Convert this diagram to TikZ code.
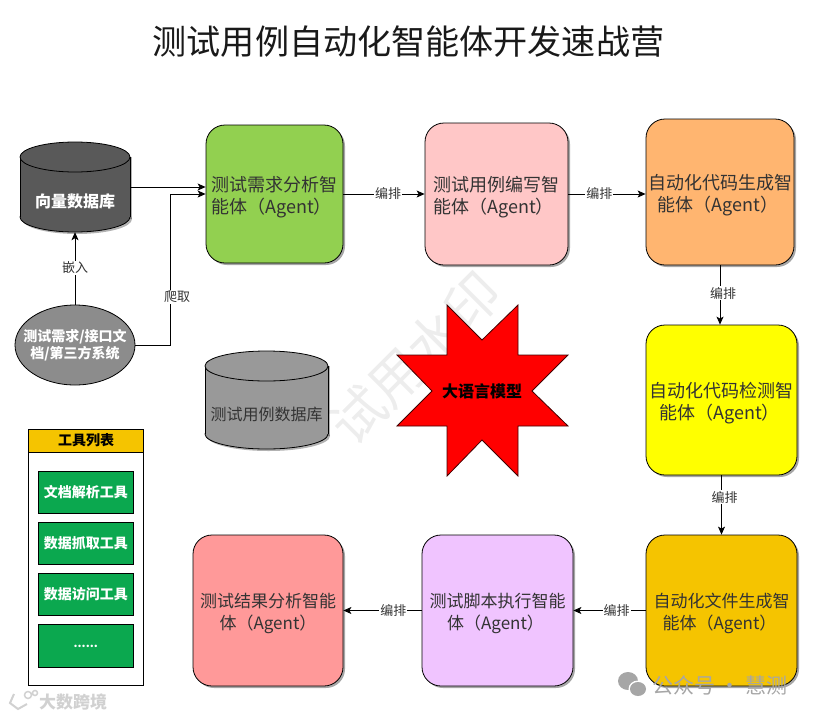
\documentclass[tikz,border=0pt]{standalone}
\usepackage{fontspec}
\setmainfont{Noto Sans CJK SC}
\usetikzlibrary{arrows.meta,shapes.geometric,shadows}
\definecolor{cgreen}{HTML}{92D050}
\definecolor{cpink}{HTML}{FFC7C7}
\definecolor{corange}{HTML}{FFB570}
\definecolor{cyel}{HTML}{FFFF00}
\definecolor{cgold}{HTML}{F5C400}
\definecolor{cpurple}{HTML}{F0C4FF}
\definecolor{csalmon}{HTML}{FF9999}
\definecolor{ctool}{HTML}{0BA84F}
\newcommand\agtext[2]{\rule{0pt}{21pt}#1\\#2}
% cx, top y, bottom y, rx, ry, fill
\newcommand\drawcyl[6]{%
  \fill[black,opacity=0.3] (#1+2,#3-#5+2) ellipse (#4pt and #5pt);
  \fill[black,opacity=0.3] (#1+#4,#2+#5) rectangle (#1+#4+2,#3-#5+2);
  \draw[draw=black,line width=0.8pt,fill=#6] (#1,#3-#5) ellipse (#4pt and #5pt);
  \fill[#6] (#1-#4,#2+#5) rectangle (#1+#4,#3-#5);
  \draw[black,line width=0.8pt] (#1-#4,#2+#5) -- (#1-#4,#3-#5) (#1+#4,#2+#5) -- (#1+#4,#3-#5);
  \draw[draw=black,line width=0.8pt,fill=#6] (#1,#2+#5) ellipse (#4pt and #5pt);
}
\tikzset{
  agent/.style={draw=black,line width=0.8pt,rounded corners=19pt,inner sep=0pt,align=center,
    font=\fontsize{18}{22}\selectfont,text=black!80,drop shadow={shadow xshift=2pt,shadow yshift=-2pt,fill=black,opacity=0.35}},
  agentsm/.style={agent,font=\fontsize{17}{22}\selectfont},
  toolbox/.style={draw=black,line width=0.9pt,fill=ctool,minimum width=95.5pt,minimum height=42.5pt,inner sep=0pt,
    text=white,font=\fontsize{14}{18}\selectfont\bfseries},
  conn/.style={draw=black,line width=0.8pt,-{Stealth[length=8pt,width=7pt,inset=2pt]}},
  lab/.style={fill=white,inner sep=1pt,font=\fontsize{13}{15}\selectfont,text=black!80},
  wm/.style={inner sep=0pt,text=black!35}
}
\begin{document}
\begin{tikzpicture}[x=1pt,y=-1pt]
\useasboundingbox (0,0) rectangle (814,718);
\node[inner sep=0pt,rotate=45,text=black!7,font=\fontsize{54}{58}\selectfont] (wmark) at (415,358) {试用水印};
\node[inner sep=0pt,font=\fontsize{34.1}{40}\selectfont,text=black!90] (title) at (408.5,42) {测试用例自动化智能体开发速战营};

\node[agent,fill=cgreen,minimum width=137pt,minimum height=138pt] (green) at (274.5,194) {\agtext{测试需求分析智}{能体（Agent）\hspace*{6pt}}};
\node[agent,fill=cpink,minimum width=143pt,minimum height=142pt] (pink) at (496.5,194) {\agtext{测试用例编写智}{能体（Agent）\hspace*{6pt}}};
\node[agent,fill=corange,minimum width=148pt,minimum height=146pt] (orange) at (720,192) {\agtext{自动化代码生成智}{能体（Agent）\hspace*{4pt}}};
\node[agent,fill=cyel,minimum width=151pt,minimum height=150pt] (yellowbox) at (721.5,400) {\agtext{自动化代码检测智}{能体（Agent）\hspace*{4pt}}};
\node[agentsm,fill=cgold,minimum width=151pt,minimum height=151pt] (gold) at (721.5,610.5) {\agtext{自动化文件生成智}{能体（Agent）\hspace*{4pt}}};
\node[agentsm,fill=cpurple,minimum width=151pt,minimum height=151pt] (purple) at (497.5,610.5) {\agtext{测试脚本执行智能}{体（Agent）\hspace*{4pt}}};
\node[agentsm,fill=csalmon,minimum width=150pt,minimum height=151pt] (salmon) at (268,610.5) {\agtext{测试结果分析智能}{体（Agent）}};

\drawcyl{75}{142}{232}{55}{15}{black!65}
\node[minimum width=110pt,minimum height=90pt,inner sep=0pt] (vecdb) at (75,187) {};
\node[inner sep=0pt,text=white,font=\fontsize{16}{20}\selectfont\bfseries] (vecdbt) at (75,201) {向量数据库};
\drawcyl{266.5}{351}{449}{61.5}{15}{black!40}
\node[minimum width=123pt,minimum height=98pt,inner sep=0pt] (casedb) at (266.5,400) {};
\node[inner sep=0pt,text=black!80,font=\fontsize{16}{20}\selectfont] (casedbt) at (266.5,414) {测试用例数据库};

\node[ellipse,draw=black,line width=0.8pt,fill=black!45,minimum width=120pt,minimum height=80pt,inner sep=0pt] (src) at (75,345) {};
\node[inner sep=0pt,align=center,text=white,font=\fontsize{14}{17.5}\selectfont\bfseries] (srct) at (75,345) {测试需求/接口文\\档/第三方系统};

\draw[draw=black!75!red,line width=0.8pt,fill=red] (447,305) -- (482,340) -- (518,305) -- (518,355) -- (568,355) -- (532,391)
  -- (568,426) -- (518,426) -- (518,476) -- (482,440) -- (447,476) -- (447,426) -- (397,426) -- (432,391) -- (397,355) -- (447,355) -- cycle;
\node[inner sep=0pt,text=black,font=\fontsize{16}{20}\selectfont\bfseries] (llm) at (482,391) {大语言模型};

\node[draw=black,line width=0.9pt,fill=white,minimum width=115pt,minimum height=256.5pt,inner sep=0pt] (panel) at (86,557.5) {};
\node[draw=black,line width=0.9pt,fill=cgold,minimum width=115pt,minimum height=23pt,inner sep=0pt,font=\fontsize{14}{18}\selectfont\bfseries] (panelhead) at (86,440.5) {工具列表};
\node[toolbox] (t1) at (85.75,492.25) {文档解析工具};
\node[toolbox] (t2) at (85.75,543.25) {数据抓取工具};
\node[toolbox] (t3) at (85.75,594.25) {数据访问工具};
\node[toolbox,font=\fontsize{11.5}{14}\selectfont\bfseries] (t4) at (85.75,646) {......};

\coordinate (bend) at (170,194);
\draw[conn] (vecdb.east) -- (vecdb.east -| green.west);
\draw[conn] (src.east) -| (bend) -- (green.west);
\node[lab] (lcrawl) at (177,297) {爬取};
\draw[conn] (src.north) -- (vecdb.south) node[lab,pos=0.51] {嵌入};
\draw[conn] (green.east) -- (pink.west) node[lab,pos=0.55] {编排};
\draw[conn] (pink.east) -- (pink.east -| orange.west) node[lab,pos=0.4] {编排};
\draw[conn] (orange.south) -- (orange.south |- yellowbox.north) node[lab,pos=0.47,xshift=3pt] {编排};
\draw[conn] (yellowbox.south) -- (gold.north) node[lab,pos=0.37,xshift=3pt] {编排};
\draw[conn] (gold.west) -- (purple.east) node[lab,pos=0.4] {编排};
\draw[conn] (purple.west) -- (salmon.east) node[lab,pos=0.36] {编排};

\node[wm,font=\fontsize{21}{24}\selectfont] (wx) at (720,685) {公众号 · 慧测};
\fill[black!35] (628,681) ellipse (10pt and 9pt);
\fill[white] (638,689) ellipse (9.5pt and 8.5pt);
\fill[black!35] (638,689) ellipse (8pt and 7pt);
\node[wm,text=black!18,font=\fontsize{17}{20}\selectfont\bfseries] (bd) at (73,702) {大数跨境};
\draw[black!18,line width=2pt] (14,694) -- (10,703) -- (18,709) -- (27,704);
\draw[black!18,line width=1.5pt] (28,695) circle (3.5pt) (35,693) circle (2.5pt);
\end{tikzpicture}
\end{document}
